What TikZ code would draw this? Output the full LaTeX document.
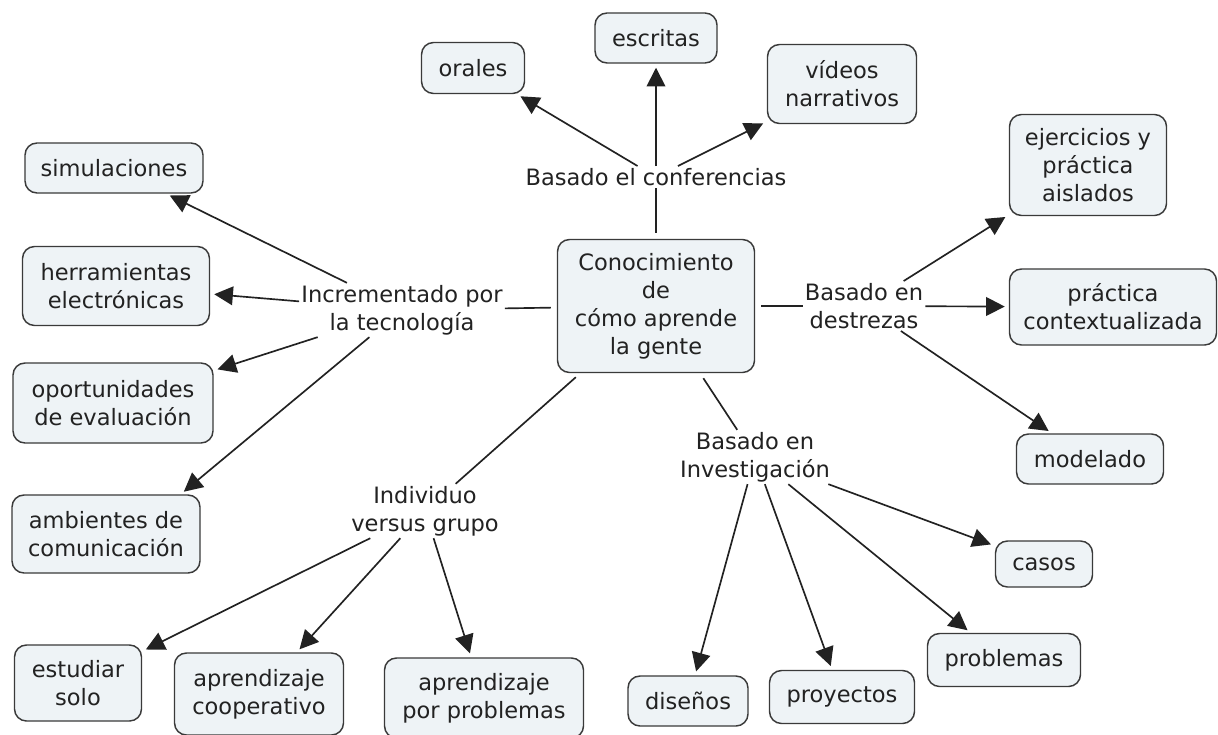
\documentclass[tikz,border=0pt]{standalone}
\usepackage{fontspec}
\setmainfont{DejaVu Sans}
\usetikzlibrary{arrows.meta}
\definecolor{boxfill}{HTML}{EEF3F6}
\definecolor{boxline}{HTML}{3A3A3A}
\definecolor{ink}{HTML}{222222}
\begin{document}
\begin{tikzpicture}[x=0.75pt,y=-0.75pt,
  every node/.style={font=\fontsize{16.9}{21}\selectfont, text=ink, align=center},
  concept/.style={draw=boxline, fill=boxfill, rounded corners=9pt, line width=1.1pt, inner sep=2pt},
  linkword/.style={inner sep=1.5pt},
  conn/.style={line width=1.25pt, draw=ink},
  arr/.style={conn, -{Triangle[length=14pt,width=14pt]}, shorten >=3pt},
  stub/.style={conn, shorten <=4.5pt}
]
\useasboundingbox (0,0) rectangle (1218,735);
\fill[white] (0,0) rectangle (1218,735);

% central concept
\node[concept, minimum width=147.75pt, minimum height=99.75pt] (cen) at (656,306) {Conocimiento\\de\\cómo aprende\\la gente};

% linking phrases
\node[linkword] (conf) at (656,177) {Basado el conferencias};
\node[linkword] (inc) at (402,310) {Incrementado por\\la tecnología};
\node[linkword] (des) at (864,306) {Basado en\\destrezas};
\node[linkword] (inv) at (755,457) {Basado en\\Investigación};
\node[linkword] (ind) at (425,511) {Individuo\\versus grupo};

% top concepts
\node[concept, minimum width=77.25pt, minimum height=38.25pt] (oral) at (473,68) {orales};
\node[concept, minimum width=91.5pt, minimum height=37.5pt] (escr) at (656,38) {escritas};
\node[concept, minimum width=111.75pt, minimum height=59.25pt] (vid) at (842,84) {vídeos\\narrativos};

% left concepts
\node[concept, minimum width=133.5pt, minimum height=37.5pt] (sim) at (114,168) {simulaciones};
\node[concept, minimum width=140.25pt, minimum height=59.25pt] (her) at (116,286) {herramientas\\electrónicas};
\node[concept, minimum width=150pt, minimum height=60pt] (opo) at (113,403) {oportunidades\\de evaluación};
\node[concept, minimum width=141pt, minimum height=58.5pt] (amb) at (106,534) {ambientes de\\comunicación};

% right concepts
\node[concept, minimum width=117.75pt, minimum height=75.75pt] (eje) at (1088,165) {ejercicios y\\práctica\\aislados};
\node[concept, minimum width=155.25pt, minimum height=57pt] (pra) at (1113,307) {práctica\\contextualizada};
\node[concept, minimum width=110.25pt, minimum height=37.5pt] (mod) at (1090,459) {modelado};

% investigation concepts
\node[concept, minimum width=72.75pt, minimum height=34.5pt] (cas) at (1044,564) {casos};
\node[concept, minimum width=114.75pt, minimum height=39.75pt] (pro) at (1004,660) {problemas};
\node[concept, minimum width=108.75pt, minimum height=39.75pt] (pry) at (842,697) {proyectos};
\node[concept, minimum width=90pt, minimum height=37.5pt] (dis) at (688,701) {diseños};

% group concepts
\node[concept, minimum width=95.25pt, minimum height=57pt] (est) at (78,683) {estudiar\\solo};
\node[concept, minimum width=126.75pt, minimum height=61.5pt] (coo) at (259,694) {aprendizaje\\cooperativo};
\node[concept, minimum width=149.25pt, minimum height=60pt] (apb) at (484,698) {aprendizaje\\por problemas};

% connectors from the central concept
\draw[stub] (cen) -- (conf);
\draw[stub] (cen) -- (inc);
\draw[stub] (cen) -- (des);
\draw[stub] (cen) -- (inv);
\draw[stub] (cen) -- (ind);

% arrows
\draw[arr] (conf) -- (oral);
\draw[arr] (conf) -- (escr);
\draw[arr] (conf) -- (vid);

\draw[arr] (inc) -- (sim);
\draw[arr] (inc) -- (her);
\draw[arr] (inc) -- (opo);
\draw[arr] (inc) -- (amb.28.5);

\draw[arr] (des) -- (eje);
\draw[arr] (des) -- (pra);
\draw[arr] (des) -- (mod);

\draw[arr] (inv) -- (cas);
\draw[arr] (inv) -- (pro);
\draw[arr] (inv) -- (pry);
\draw[arr] (inv) -- (dis);

\draw[arr] (ind) -- (est);
\draw[arr] (ind) -- (coo);
\draw[arr] (ind) -- (apb);
\end{tikzpicture}
\end{document}
